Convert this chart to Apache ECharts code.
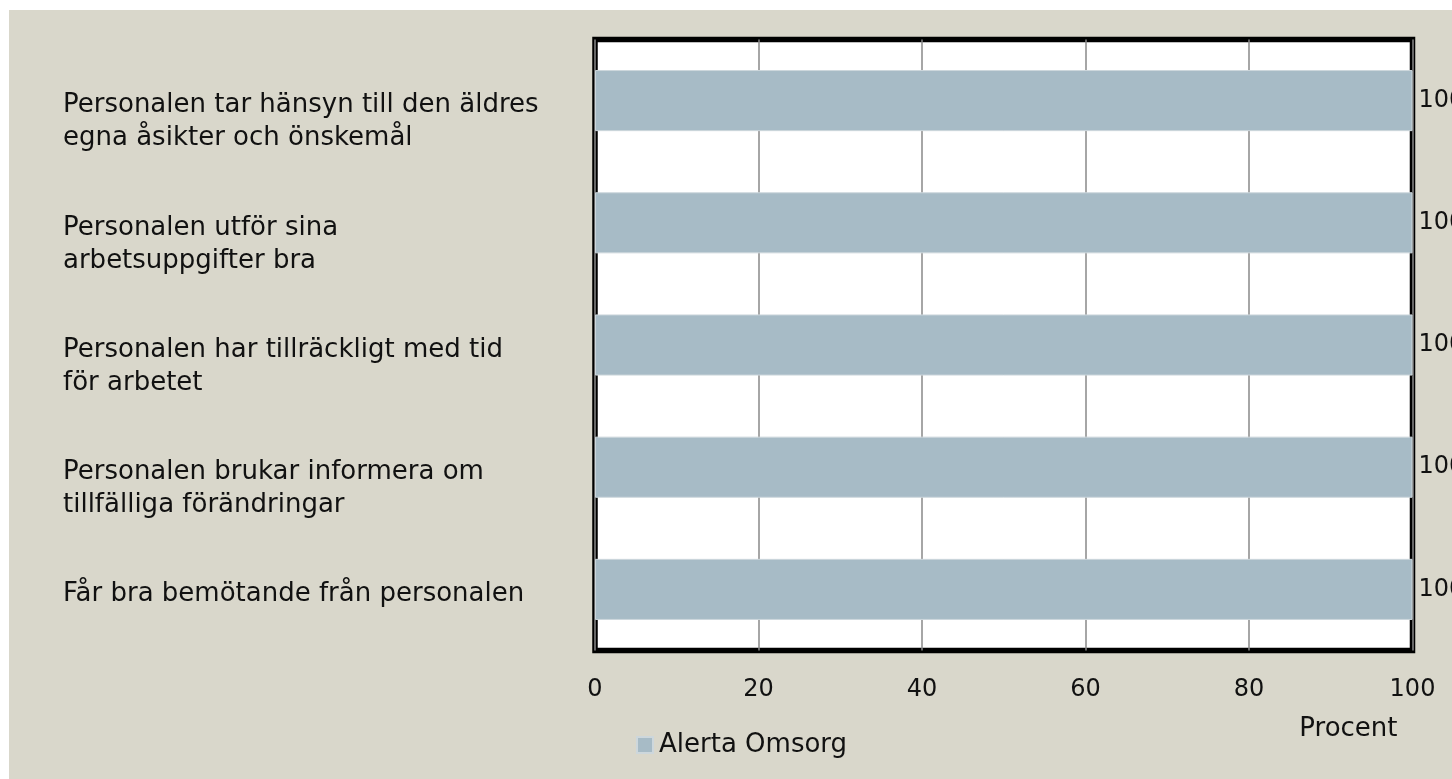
<!DOCTYPE html>
<html>
<head>
<meta charset="utf-8">
<script src="https://cdn.jsdelivr.net/npm/echarts@6/dist/echarts.min.js"></script>
<style>
html,body{margin:0;padding:0;background:#ffffff;width:1452px;height:779px;overflow:hidden;}
#chart{position:absolute;left:9px;top:10px;width:1443px;height:769px;}
</style>
</head>
<body>
<div id="chart"></div>
<script>
const categories = [
  "Personalen tar hänsyn till den äldres\negna åsikter och önskemål",
  "Personalen utför sina\narbetsuppgifter bra",
  "Personalen har tillräckligt med tid\nför arbetet",
  "Personalen brukar informera om\ntillfälliga förändringar",
  "Får bra bemötande från personalen"
];
const seriesName = "Alerta Omsorg";
const values = [100, 100, 100, 100, 100];
const xTicks = [0, 20, 40, 60, 80, 100];
const axisName = "Procent";

const FONT = "DejaVu Sans";
const chart = echarts.init(document.getElementById('chart'));
chart.setOption({
  backgroundColor: '#d9d7cb',
  animation: false,
  textStyle: { fontFamily: FONT, color: '#111111' },
  grid: {
    left: 586, top: 29.5, right: 39.5, bottom: 128.5,
    show: true, backgroundColor: '#ffffff', borderColor: '#000000', borderWidth: 5.5
  },
  legend: {
    data: [seriesName],
    left: 627, top: 722, padding: 0,
    itemWidth: 16, itemHeight: 16, itemGap: 10,
    icon: 'rect',
    textStyle: { fontFamily: FONT, fontSize: 26, color: '#111111', padding: [0, 0, 0, 1] }
  },
  xAxis: {
    type: 'value',
    min: xTicks[0], max: xTicks[xTicks.length - 1], interval: 20,
    name: axisName,
    nameLocation: 'end',
    nameGap: 0,
    nameTextStyle: { fontFamily: FONT, fontSize: 26, color: '#111111', align: 'right', verticalAlign: 'top', padding: [66, 15, 0, 0] },
    axisLine: { show: false },
    axisTick: { show: false },
    axisLabel: { fontFamily: FONT, fontSize: 24, color: '#111111', margin: 27 },
    splitLine: { show: true, lineStyle: { color: '#888888', width: 1.5 } }
  },
  yAxis: {
    type: 'category',
    data: categories,
    inverse: true,
    axisLine: { show: false },
    axisTick: { show: false },
    splitLine: { show: false },
    axisLabel: {
      fontFamily: FONT, fontSize: 26, color: '#111111',
      align: 'left', verticalAlign: 'middle', lineHeight: 33,
      margin: 532,
      formatter: function (v) {
        return (v.indexOf('\n') >= 0 ? '{s2| }\n' : '{s1| }\n') + v;
      },
      rich: {
        s1: { fontSize: 1, lineHeight: 10, height: 10 },
        s2: { fontSize: 1, lineHeight: 43, height: 43 }
      }
    }
  },
  series: [{
    name: seriesName,
    type: 'bar',
    data: values,
    barCategoryGap: '50%',
    itemStyle: { color: '#a7bbc6', borderColor: '#cdd7dc', borderWidth: 1 },
    label: { show: true, position: 'right', distance: 6, fontFamily: FONT, fontSize: 24, color: '#111111' }
  }]
});
</script>
</body>
</html>
